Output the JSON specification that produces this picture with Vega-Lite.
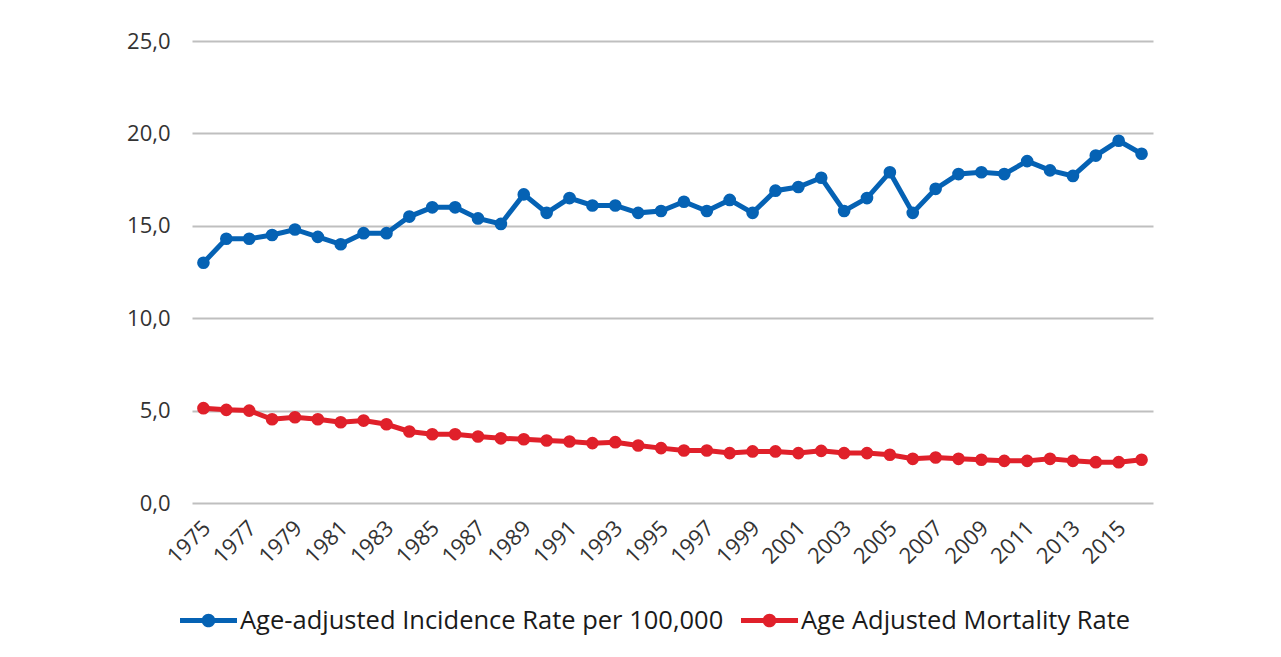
{
  "$schema": "https://vega.github.io/schema/vega-lite/v6.json",
  "width": 961,
  "height": 462,
  "autosize": {"type": "none"},
  "padding": {"left": 192, "top": 41, "right": 128, "bottom": 154},
  "background": "white",
  "config": {
    "view": {"stroke": null},
    "font": "Open Sans",
    "axis": {"labelFont": "Open Sans", "labelColor": "#333333", "labelFontSize": 22}
  },
  "data": {"values": [
    {"year": "1975", "series": "Age-adjusted Incidence Rate per 100,000", "value": 13.0},
    {"year": "1976", "series": "Age-adjusted Incidence Rate per 100,000", "value": 14.3},
    {"year": "1977", "series": "Age-adjusted Incidence Rate per 100,000", "value": 14.3},
    {"year": "1978", "series": "Age-adjusted Incidence Rate per 100,000", "value": 14.5},
    {"year": "1979", "series": "Age-adjusted Incidence Rate per 100,000", "value": 14.8},
    {"year": "1980", "series": "Age-adjusted Incidence Rate per 100,000", "value": 14.4},
    {"year": "1981", "series": "Age-adjusted Incidence Rate per 100,000", "value": 14.0},
    {"year": "1982", "series": "Age-adjusted Incidence Rate per 100,000", "value": 14.6},
    {"year": "1983", "series": "Age-adjusted Incidence Rate per 100,000", "value": 14.6},
    {"year": "1984", "series": "Age-adjusted Incidence Rate per 100,000", "value": 15.5},
    {"year": "1985", "series": "Age-adjusted Incidence Rate per 100,000", "value": 16.0},
    {"year": "1986", "series": "Age-adjusted Incidence Rate per 100,000", "value": 16.0},
    {"year": "1987", "series": "Age-adjusted Incidence Rate per 100,000", "value": 15.4},
    {"year": "1988", "series": "Age-adjusted Incidence Rate per 100,000", "value": 15.1},
    {"year": "1989", "series": "Age-adjusted Incidence Rate per 100,000", "value": 16.7},
    {"year": "1990", "series": "Age-adjusted Incidence Rate per 100,000", "value": 15.7},
    {"year": "1991", "series": "Age-adjusted Incidence Rate per 100,000", "value": 16.5},
    {"year": "1992", "series": "Age-adjusted Incidence Rate per 100,000", "value": 16.1},
    {"year": "1993", "series": "Age-adjusted Incidence Rate per 100,000", "value": 16.1},
    {"year": "1994", "series": "Age-adjusted Incidence Rate per 100,000", "value": 15.7},
    {"year": "1995", "series": "Age-adjusted Incidence Rate per 100,000", "value": 15.8},
    {"year": "1996", "series": "Age-adjusted Incidence Rate per 100,000", "value": 16.3},
    {"year": "1997", "series": "Age-adjusted Incidence Rate per 100,000", "value": 15.8},
    {"year": "1998", "series": "Age-adjusted Incidence Rate per 100,000", "value": 16.4},
    {"year": "1999", "series": "Age-adjusted Incidence Rate per 100,000", "value": 15.7},
    {"year": "2000", "series": "Age-adjusted Incidence Rate per 100,000", "value": 16.9},
    {"year": "2001", "series": "Age-adjusted Incidence Rate per 100,000", "value": 17.1},
    {"year": "2002", "series": "Age-adjusted Incidence Rate per 100,000", "value": 17.6},
    {"year": "2003", "series": "Age-adjusted Incidence Rate per 100,000", "value": 15.8},
    {"year": "2004", "series": "Age-adjusted Incidence Rate per 100,000", "value": 16.5},
    {"year": "2005", "series": "Age-adjusted Incidence Rate per 100,000", "value": 17.9},
    {"year": "2006", "series": "Age-adjusted Incidence Rate per 100,000", "value": 15.7},
    {"year": "2007", "series": "Age-adjusted Incidence Rate per 100,000", "value": 17.0},
    {"year": "2008", "series": "Age-adjusted Incidence Rate per 100,000", "value": 17.8},
    {"year": "2009", "series": "Age-adjusted Incidence Rate per 100,000", "value": 17.9},
    {"year": "2010", "series": "Age-adjusted Incidence Rate per 100,000", "value": 17.8},
    {"year": "2011", "series": "Age-adjusted Incidence Rate per 100,000", "value": 18.5},
    {"year": "2012", "series": "Age-adjusted Incidence Rate per 100,000", "value": 18.0},
    {"year": "2013", "series": "Age-adjusted Incidence Rate per 100,000", "value": 17.7},
    {"year": "2014", "series": "Age-adjusted Incidence Rate per 100,000", "value": 18.8},
    {"year": "2015", "series": "Age-adjusted Incidence Rate per 100,000", "value": 19.6},
    {"year": "2016", "series": "Age-adjusted Incidence Rate per 100,000", "value": 18.9},
    {"year": "1975", "series": "Age Adjusted Mortality Rate", "value": 5.13},
    {"year": "1976", "series": "Age Adjusted Mortality Rate", "value": 5.04},
    {"year": "1977", "series": "Age Adjusted Mortality Rate", "value": 5.0},
    {"year": "1978", "series": "Age Adjusted Mortality Rate", "value": 4.53},
    {"year": "1979", "series": "Age Adjusted Mortality Rate", "value": 4.64},
    {"year": "1980", "series": "Age Adjusted Mortality Rate", "value": 4.53},
    {"year": "1981", "series": "Age Adjusted Mortality Rate", "value": 4.37},
    {"year": "1982", "series": "Age Adjusted Mortality Rate", "value": 4.46},
    {"year": "1983", "series": "Age Adjusted Mortality Rate", "value": 4.26},
    {"year": "1984", "series": "Age Adjusted Mortality Rate", "value": 3.87},
    {"year": "1985", "series": "Age Adjusted Mortality Rate", "value": 3.72},
    {"year": "1986", "series": "Age Adjusted Mortality Rate", "value": 3.72},
    {"year": "1987", "series": "Age Adjusted Mortality Rate", "value": 3.6},
    {"year": "1988", "series": "Age Adjusted Mortality Rate", "value": 3.5},
    {"year": "1989", "series": "Age Adjusted Mortality Rate", "value": 3.45},
    {"year": "1990", "series": "Age Adjusted Mortality Rate", "value": 3.38},
    {"year": "1991", "series": "Age Adjusted Mortality Rate", "value": 3.33},
    {"year": "1992", "series": "Age Adjusted Mortality Rate", "value": 3.24},
    {"year": "1993", "series": "Age Adjusted Mortality Rate", "value": 3.29},
    {"year": "1994", "series": "Age Adjusted Mortality Rate", "value": 3.11},
    {"year": "1995", "series": "Age Adjusted Mortality Rate", "value": 2.97},
    {"year": "1996", "series": "Age Adjusted Mortality Rate", "value": 2.84},
    {"year": "1997", "series": "Age Adjusted Mortality Rate", "value": 2.84},
    {"year": "1998", "series": "Age Adjusted Mortality Rate", "value": 2.7},
    {"year": "1999", "series": "Age Adjusted Mortality Rate", "value": 2.79},
    {"year": "2000", "series": "Age Adjusted Mortality Rate", "value": 2.79},
    {"year": "2001", "series": "Age Adjusted Mortality Rate", "value": 2.7},
    {"year": "2002", "series": "Age Adjusted Mortality Rate", "value": 2.82},
    {"year": "2003", "series": "Age Adjusted Mortality Rate", "value": 2.7},
    {"year": "2004", "series": "Age Adjusted Mortality Rate", "value": 2.7},
    {"year": "2005", "series": "Age Adjusted Mortality Rate", "value": 2.61},
    {"year": "2006", "series": "Age Adjusted Mortality Rate", "value": 2.39},
    {"year": "2007", "series": "Age Adjusted Mortality Rate", "value": 2.46},
    {"year": "2008", "series": "Age Adjusted Mortality Rate", "value": 2.39},
    {"year": "2009", "series": "Age Adjusted Mortality Rate", "value": 2.34},
    {"year": "2010", "series": "Age Adjusted Mortality Rate", "value": 2.28},
    {"year": "2011", "series": "Age Adjusted Mortality Rate", "value": 2.28},
    {"year": "2012", "series": "Age Adjusted Mortality Rate", "value": 2.39},
    {"year": "2013", "series": "Age Adjusted Mortality Rate", "value": 2.28},
    {"year": "2014", "series": "Age Adjusted Mortality Rate", "value": 2.21},
    {"year": "2015", "series": "Age Adjusted Mortality Rate", "value": 2.21},
    {"year": "2016", "series": "Age Adjusted Mortality Rate", "value": 2.34}
  ]},
  "encoding": {
    "x": {
      "field": "year", "type": "ordinal",
      "scale": {"type": "point", "padding": 0.5},
      "axis": {
        "title": null, "domain": false, "ticks": false, "grid": false,
        "values": ["1975","1977","1979","1981","1983","1985","1987","1989","1991","1993","1995","1997","1999","2001","2003","2005","2007","2009","2011","2013","2015"],
        "labelAngle": -45, "labelAlign": "right", "labelBaseline": "top", "labelPadding": 14, "labelOffset": -4, "labelOverlap": false
      }
    },
    "y": {
      "field": "value", "type": "quantitative",
      "scale": {"domain": [0, 25], "nice": false},
      "axis": {
        "title": null, "domain": false, "ticks": false,
        "values": [0, 5, 10, 15, 20, 25],
        "labelExpr": "replace(format(datum.value, '.1f'), '.', ',')",
        "labelPadding": 22,
        "gridColor": "#bfbfbf", "gridWidth": 2
      }
    },
    "color": {
      "field": "series", "type": "nominal",
      "scale": {"domain": ["Age-adjusted Incidence Rate per 100,000", "Age Adjusted Mortality Rate"], "range": ["#0562B4", "#E0202A"]},
      "legend": {
        "title": null, "orient": "none", "direction": "horizontal",
        "legendX": -12, "legendY": 551,
        "labelFont": "Open Sans", "labelFontSize": 25.5, "labelColor": "#1a1a1a", "labelLimit": 0,
        "symbolType": "M-1,-0.09H1V0.09H-1Z M-0.24,0A0.24,0.24 0 1,1 0.24,0A0.24,0.24 0 1,1 -0.24,0Z",
        "symbolSize": 3249, "symbolStrokeWidth": 0,
        "labelOffset": 3, "columnPadding": 17,
        "encode": {"symbols": {"update": {"fill": {"scale": "color", "field": "value"}, "fillOpacity": {"value": 1}, "strokeWidth": {"value": 0}}}}
      }
    }
  },
  "layer": [
    {"mark": {"type": "line", "strokeWidth": 5}},
    {"mark": {"type": "point", "filled": true, "size": 160, "opacity": 1}}
  ]
}
